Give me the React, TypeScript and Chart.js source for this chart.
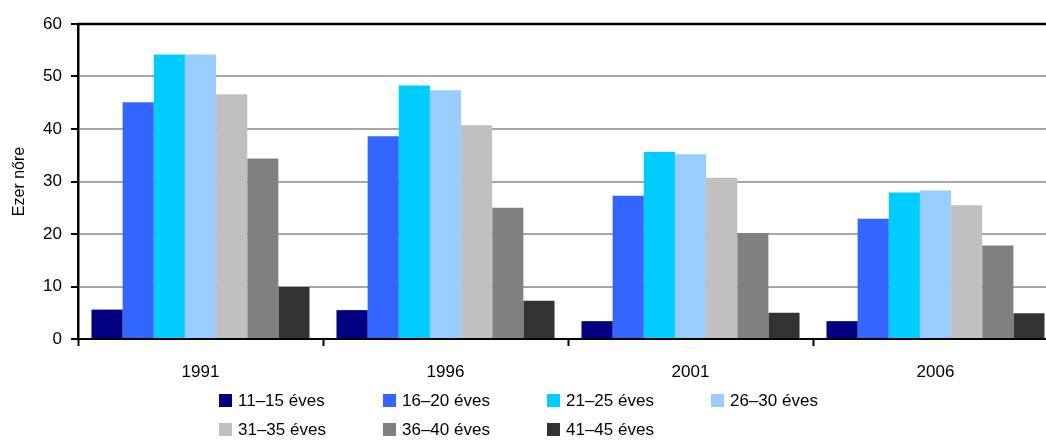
import React, { useEffect, useRef } from "react";
import { Chart, registerables } from "chart.js";

Chart.register(...registerables);

const categories = ["1991", "1996", "2001", "2006"];
const seriesLabels = [
  "11–15 éves",
  "16–20 éves",
  "21–25 éves",
  "26–30 éves",
  "31–35 éves",
  "36–40 éves",
  "41–45 éves",
];
const s11_15 = [5.6, 5.5, 3.4, 3.4];
const s16_20 = [45.1, 38.6, 27.3, 22.9];
const s21_25 = [54.2, 48.3, 35.6, 27.9];
const s26_30 = [54.2, 47.4, 35.2, 28.3];
const s31_35 = [46.6, 40.7, 30.7, 25.5];
const s36_40 = [34.4, 25.0, 20.2, 17.8];
const s41_45 = [9.9, 7.3, 5.0, 4.9];
const seriesColors = ["#000080", "#3366FF", "#00CCFF", "#99CCFF", "#C0C0C0", "#808080", "#333333"];
const yTitle = "Ezer nőre";

const FONT = "'Liberation Sans', Arial, sans-serif";

export default function App() {
  const ref = useRef<HTMLCanvasElement | null>(null);
  useEffect(() => {
    if (!ref.current) return;
    const values = [s11_15, s16_20, s21_25, s26_30, s31_35, s36_40, s41_45];
    const legendPlugin = {
      id: "customLegend",
      afterDraw(chart: any) {
        const ctx = chart.ctx;
        ctx.save();
        const ca = chart.chartArea;
        ctx.strokeStyle = "#000";
        ctx.lineWidth = 2.5;
        ctx.beginPath();
        ctx.moveTo(ca.left, ca.top);
        ctx.lineTo(ca.right + 2, ca.top);
        ctx.stroke();
        const cols = [219, 383, 547, 711];
        const rows = [394, 423];
        ctx.font = `17px ${FONT}`;
        ctx.textBaseline = "middle";
        ctx.textAlign = "left";
        seriesLabels.forEach((lab, i) => {
          const c = i % 4;
          const r = Math.floor(i / 4);
          const x = cols[c];
          const y = rows[r];
          ctx.fillStyle = seriesColors[i];
          ctx.fillRect(x, y, 13, 13);
          ctx.fillStyle = "#000";
          ctx.fillText(lab, x + 19, y + 7.5);
        });
        ctx.restore();
      },
    };
    const chart = new Chart(ref.current, {
      type: "bar",
      data: {
        labels: categories,
        datasets: seriesLabels.map((lab, i) => ({
          label: lab,
          data: values[i],
          backgroundColor: seriesColors[i],
          borderWidth: 0,
          categoryPercentage: 0.89,
          barPercentage: 1,
        })),
      },
      options: {
        responsive: false,
        animation: false,
        devicePixelRatio: 1,
        layout: { padding: { top: 24, right: 2, left: 0, bottom: 0 } },
        plugins: {
          legend: { display: false },
          tooltip: { enabled: false },
        },
        scales: {
          x: {
            offset: true,
            grid: {
              offset: true,
              drawOnChartArea: false,
              drawTicks: true,
              tickLength: 7,
              tickColor: "#000",
              tickWidth: 2,
            },
            border: { color: "#000", width: 2 },
            ticks: {
              color: "#000",
              font: { family: FONT, size: 17 },
              padding: 16,
              maxRotation: 0,
            },
            afterFit(scale: any) {
              scale.height = 102;
            },
          },
          y: {
            min: 0,
            max: 60,
            ticks: {
              stepSize: 10,
              color: "#000",
              font: { family: FONT, size: 17 },
              padding: 9,
            },
            grid: {
              color: "#A6A6A6",
              lineWidth: 2,
              tickLength: 7,
              tickColor: "#000",
              tickWidth: 2,
            },
            border: { color: "#000", width: 2.5 },
            title: {
              display: true,
              text: yTitle,
              color: "#000",
              font: { family: FONT, size: 16 },
              padding: { top: 10, bottom: 0 },
            },
            afterFit(scale: any) {
              scale.width = 78;
            },
          },
        },
      },
      plugins: [legendPlugin],
    });
    return () => chart.destroy();
  }, []);
  return (
    <div
      style={{
        position: "fixed",
        left: 0,
        top: 0,
        width: 1046,
        height: 441,
        overflow: "hidden",
        background: "#fff",
      }}
    >
      <canvas ref={ref} width={1060} height={441} style={{ display: "block" }} />
    </div>
  );
}
